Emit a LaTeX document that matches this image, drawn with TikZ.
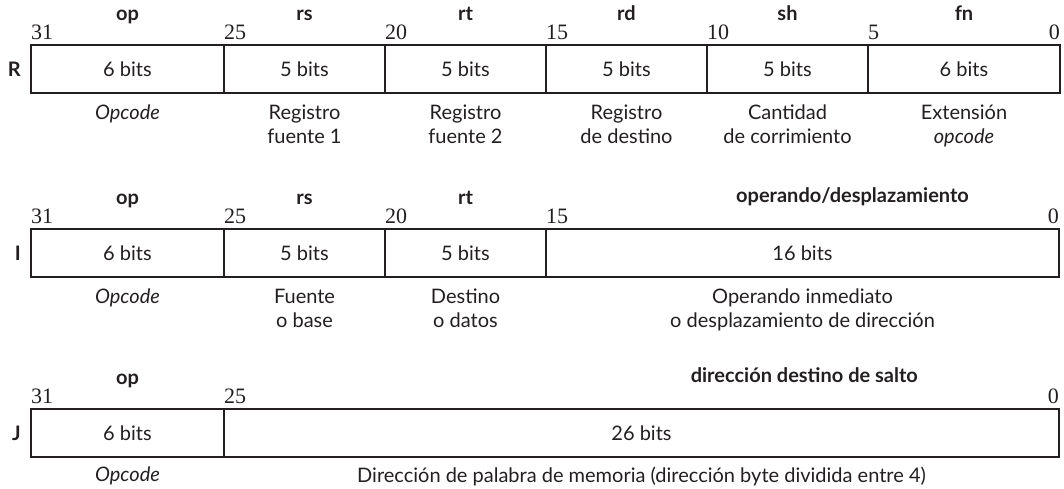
\documentclass[tikz,border=0pt]{standalone}
\usepackage{fontspec}
\setmainfont{Lato}
\newfontfamily\numfont{Liberation Serif}
\definecolor{ink}{RGB}{35,31,32}
\tikzset{
  fld/.style={draw=ink, line width=2.4pt, minimum height=48pt, inner sep=0pt, outer sep=0pt, anchor=north west, text=ink, font=\fontsize{20}{25}\selectfont},
  hdr/.style={anchor=base, inner sep=0pt, text=ink, font=\fontsize{20}{25}\selectfont\bfseries},
  num/.style={inner sep=0pt, text=ink, font=\fontsize{22}{25}\selectfont\numfont},
  dsc/.style={anchor=north, inner sep=0pt, align=center, text=ink, font=\fontsize{20}{24}\selectfont},
  rowlbl/.style={anchor=east, inner sep=0pt, text=ink, font=\fontsize{20}{25}\selectfont\bfseries},
}
\begin{document}
\begin{tikzpicture}[x=1pt,y=-1pt]
\useasboundingbox (0,0) rectangle (1064,488);
% ---------- R format ----------
\node[fld, minimum width=193pt] (r1) at (31,45) {6 bits};
\node[fld, minimum width=161pt] (r2) at (r1.north east) {5 bits};
\node[fld, minimum width=161pt] (r3) at (r2.north east) {5 bits};
\node[fld, minimum width=161pt] (r4) at (r3.north east) {5 bits};
\node[fld, minimum width=161pt] (r5) at (r4.north east) {5 bits};
\node[fld, minimum width=192pt] (r6) at (r5.north east) {6 bits};
\node[rowlbl] (rl) at ([xshift=-10pt]r1.west) {R};
\node[hdr] (r1h) at ([yshift=25pt]r1.north) {op};
\node[hdr] (r2h) at ([yshift=25pt]r2.north) {rs};
\node[hdr] (r3h) at ([yshift=25pt]r3.north) {rt};
\node[hdr] (r4h) at ([yshift=25pt]r4.north) {rd};
\node[hdr] (r5h) at ([yshift=25pt]r5.north) {sh};
\node[hdr] (r6h) at ([yshift=25pt]r6.north) {fn};
\node[num, anchor=base west] (r1n) at ([yshift=6pt]r1.north west) {31};
\node[num, anchor=base west] (r2n) at ([yshift=6pt]r2.north west) {25};
\node[num, anchor=base west] (r3n) at ([yshift=6pt]r3.north west) {20};
\node[num, anchor=base west] (r4n) at ([yshift=6pt]r4.north west) {15};
\node[num, anchor=base west] (r5n) at ([yshift=6pt]r5.north west) {10};
\node[num, anchor=base west] (r6n) at ([yshift=6pt]r6.north west) {5};
\node[num, anchor=base east] (r0n) at ([yshift=6pt]r6.north east) {0};
\node[dsc] (r1d) at ([yshift=-12pt]r1.south) {\itshape Opcode};
\node[dsc] (r2d) at ([yshift=-12pt]r2.south) {Registro\\fuente 1};
\node[dsc] (r3d) at ([yshift=-12pt]r3.south) {Registro\\fuente 2};
\node[dsc] (r4d) at ([yshift=-12pt]r4.south) {Registro\\de destino};
\node[dsc] (r5d) at ([yshift=-12pt]r5.south) {Cantidad\\de corrimiento};
\node[dsc] (r6d) at ([yshift=-12pt]r6.south) {Extensión\\{\itshape opcode}};
% ---------- I format ----------
\node[fld, minimum width=193pt] (i1) at (31,229) {6 bits};
\node[fld, minimum width=161pt] (i2) at (i1.north east) {5 bits};
\node[fld, minimum width=161pt] (i3) at (i2.north east) {5 bits};
\node[fld, minimum width=513pt] (i4) at (i3.north east) {16 bits};
\node[rowlbl] (il) at ([xshift=-10pt]i1.west) {I};
\node[hdr] (i1h) at ([yshift=25pt]i1.north) {op};
\node[hdr] (i2h) at ([yshift=25pt]i2.north) {rs};
\node[hdr] (i3h) at ([yshift=25pt]i3.north) {rt};
\node[hdr] (i4h) at ([xshift=50pt,yshift=27pt]i4.north) {operando/desplazamiento};
\node[num, anchor=base west] (i1n) at ([yshift=6pt]i1.north west) {31};
\node[num, anchor=base west] (i2n) at ([yshift=6pt]i2.north west) {25};
\node[num, anchor=base west] (i3n) at ([yshift=6pt]i3.north west) {20};
\node[num, anchor=base west] (i4n) at ([yshift=6pt]i4.north west) {15};
\node[num, anchor=base east] (i0n) at ([yshift=6pt]i4.north east) {0};
\node[dsc] (i1d) at ([yshift=-12pt]i1.south) {\itshape Opcode};
\node[dsc] (i2d) at ([yshift=-12pt]i2.south) {Fuente\\o base};
\node[dsc] (i3d) at ([yshift=-12pt]i3.south) {Destino\\o datos};
\node[dsc] (i4d) at ([yshift=-12pt]i4.south) {Operando inmediato\\o desplazamiento de dirección};
% ---------- J format ----------
\node[fld, minimum width=193pt] (j1) at (31,409) {6 bits};
\node[fld, minimum width=835pt] (j2) at (j1.north east) {26 bits};
\node[rowlbl] (jl) at ([xshift=-10pt]j1.west) {J};
\node[hdr] (j1h) at ([yshift=25pt]j1.north) {op};
\node[dsc] (j2d) at ([yshift=-10pt]j2.south) {Dirección de palabra de memoria (dirección byte dividida entre 4)};
\node[hdr, anchor=base east] (j2h) at ([xshift=-8pt,yshift=27pt]j2.north -| j2d.east) {dirección destino de salto};
\node[num, anchor=base west] (j1n) at ([yshift=6pt]j1.north west) {31};
\node[num, anchor=base west] (j2n) at ([yshift=6pt]j2.north west) {25};
\node[num, anchor=base east] (j0n) at ([yshift=6pt]j2.north east) {0};
\node[dsc] (j1d) at ([yshift=-10pt]j1.south) {\itshape Opcode};
\end{tikzpicture}
\end{document}
